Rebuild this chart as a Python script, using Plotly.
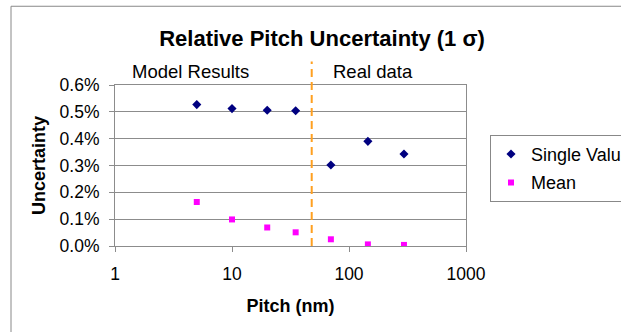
import plotly.graph_objects as go

# ---- data ----
pitch_nm = [5, 10, 20, 35, 70, 145, 295]
single_value = [0.00527, 0.00512, 0.00506, 0.00504, 0.00302, 0.00390, 0.00343]
mean_value = [0.00164, 0.00099, 0.00069, 0.00051, 0.00025, 0.00006, 0.00004]
x_tick_vals = [1, 10, 100, 1000]
x_tick_text = ["1", "10", "100", "1000"]
y_tick_vals = [0.000, 0.001, 0.002, 0.003, 0.004, 0.005, 0.006]
boundary_pitch = 48

W, H = 621, 332
L, R, T, B = 115, 466, 85.4, 245.7
pw, ph = R - L, B - T

def px(xp):
    return (xp - L) / pw

def py(yp):
    return (B - yp) / ph

FONT = "Arial, Liberation Sans, sans-serif"
GRID = "#8c8c8c"

fig = go.Figure()
fig.add_trace(go.Scatter(
    x=pitch_nm, y=single_value, mode="markers", name="Single Value",
    legendgroup="a",
    marker=dict(symbol="diamond", size=7, color="#000080"),
))
fig.add_trace(go.Scatter(
    x=pitch_nm, y=mean_value, mode="markers", name="Mean",
    legendgroup="b",
    marker=dict(symbol="square", size=6, color="#FF00FF"),
))

# dashed divider between model results and real data
fig.add_shape(type="line", xref="x", yref="paper",
              x0=boundary_pitch, x1=boundary_pitch, y0=0, y1=py(62),
              line=dict(color="#FFA020", width=2, dash="8px,5px"))

# outer chart frame (left and top)
fig.add_shape(type="line", xref="paper", yref="paper",
              x0=px(11), x1=px(11), y0=py(7), y1=py(340),
              line=dict(color="#888888", width=1))
fig.add_shape(type="line", xref="paper", yref="paper",
              x0=px(11), x1=px(640), y0=py(7), y1=py(7),
              line=dict(color="#888888", width=1))

fig.add_annotation(text="Model Results", xref="paper", yref="paper",
                   x=px(130), y=py(72), xanchor="left", yanchor="middle",
                   showarrow=False, font=dict(family=FONT, size=18.5, color="black"))
fig.add_annotation(text="Real data", xref="paper", yref="paper",
                   x=px(331), y=py(72), xanchor="left", yanchor="middle",
                   showarrow=False, font=dict(family=FONT, size=18.5, color="black"))

fig.update_layout(
    width=W, height=H,
    margin=dict(l=L, r=W - R, t=T, b=H - B, autoexpand=False),
    paper_bgcolor="white", plot_bgcolor="white",
    font=dict(family=FONT, size=18, color="black"),
    title=dict(text="<b>Relative Pitch Uncertainty (1 σ)</b>",
               x=322 / W, xanchor="center", y=1 - 38 / H, yanchor="middle",
               font=dict(family=FONT, size=22, color="black")),
    showlegend=True,
    legend=dict(x=px(490), xanchor="left", y=py(135), yanchor="top",
                bordercolor="#888888", borderwidth=1, bgcolor="white",
                font=dict(family=FONT, size=18, color="black"),
                tracegroupgap=2, itemwidth=30),
    xaxis=dict(type="log", range=[0, 3], tickvals=x_tick_vals, ticktext=x_tick_text,
               showgrid=False, zeroline=False, showline=True, linecolor=GRID,
               linewidth=1, mirror=True, ticks="outside", ticklen=5, tickcolor=GRID,
               ticklabelstandoff=7,
               tickfont=dict(family=FONT, size=17.5),
               title=dict(text="<b>Pitch (nm)</b>", standoff=16,
                          font=dict(family=FONT, size=18))),
    yaxis=dict(range=[0, 0.006], tickvals=y_tick_vals, tickformat=".1%",
               showgrid=True, gridcolor=GRID, gridwidth=1, zeroline=False,
               showline=True, linecolor=GRID, linewidth=1, mirror=True,
               ticks="outside", ticklen=5, tickcolor=GRID,
               ticklabelstandoff=6,
               tickfont=dict(family=FONT, size=17.5),
               title=dict(text="<b>Uncertainty</b>", standoff=9,
                          font=dict(family=FONT, size=18))),
)

fig.write_html("out.html")
